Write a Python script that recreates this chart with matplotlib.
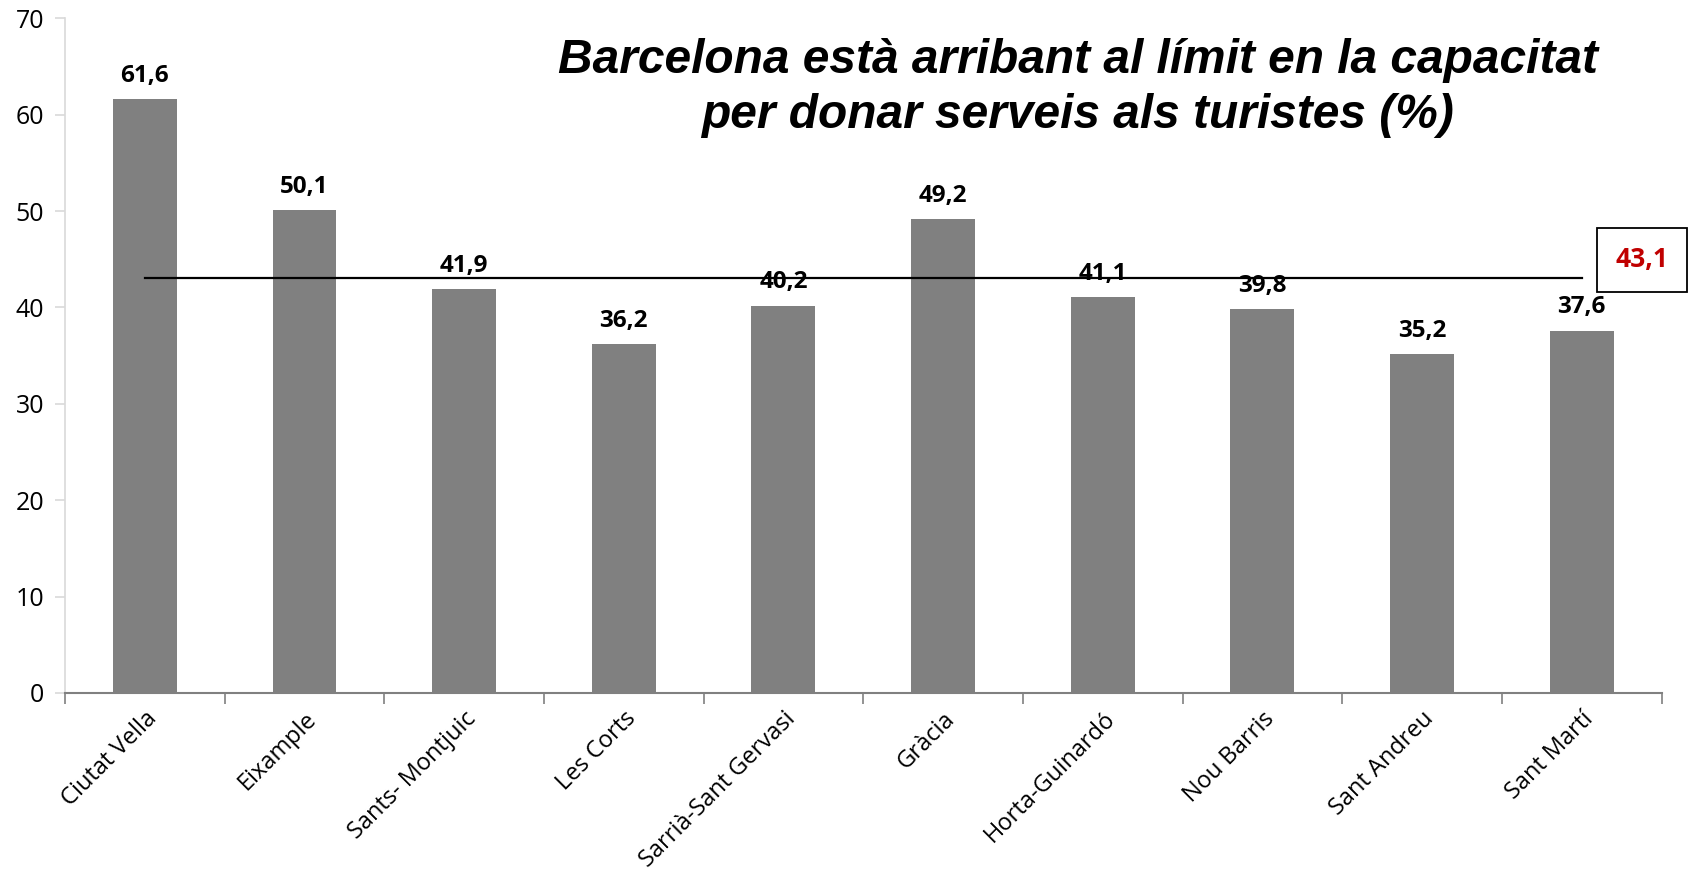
import matplotlib.pyplot as plt
import numpy as np

# dades
districtes = ["Ciutat Vella", "Eixample", "Sants- Montjuic", "Les Corts",
              "Sarrià-Sant Gervasi", "Gràcia", "Horta-Guinardó", "Nou Barris",
              "Sant Andreu", "Sant Martí"]
valors = [61.6, 50.1, 41.9, 36.2, 40.2, 49.2, 41.1, 39.8, 35.2, 37.6]
mitjana = 43.1
yticks = [0, 10, 20, 30, 40, 50, 60, 70]

titol = "Barcelona està arribant al límit en la capacitat\nper donar serveis als turistes (%)"

plt.rcParams['font.family'] = ['Open Sans', 'DejaVu Sans']

fig = plt.figure(figsize=(16.92, 8.72), dpi=100)
ax = fig.add_axes([0.0384, 0.2053, 0.9436, 0.7737])

x = np.arange(len(districtes))
ax.bar(x, valors, width=0.4, color="#808080", zorder=2)

for xi, v in zip(x, valors):
    ax.annotate(f"{v:.1f}".replace(".", ","), (xi, v), xytext=(0, 8),
                textcoords="offset points", ha="center", va="bottom",
                fontsize=17.5, fontweight="bold")

# línia de la mitjana
ax.plot([x[0], x[-1]], [mitjana, mitjana], color="black", lw=1.6, zorder=3)
fig.text(0.9705, 0.702, f"{mitjana:.1f}".replace(".", ","), color="#c00000",
         fontsize=19, fontweight="bold", ha="center", va="center",
         bbox=dict(boxstyle="square,pad=0.7", fc="white", ec="black", lw=1.3))

ax.set_xlim(-0.5, len(districtes) - 0.5)
ax.set_ylim(0, 70)
ax.set_yticks(yticks)
ax.set_yticklabels([str(t) for t in yticks], fontsize=18)

ax.set_xticks(x)
ax.set_xticklabels(districtes, rotation=45, ha="right", rotation_mode="anchor",
                   fontsize=17)
ax.tick_params(axis="x", which="major", length=0, pad=10)
ax.set_xticks(np.arange(-0.5, len(districtes)), minor=True)
ax.tick_params(axis="x", which="minor", length=8, color="#808080", width=1.2)
ax.tick_params(axis="y", length=7, color="#d9d9d9", width=1.2, pad=8)

for s in ["top", "right"]:
    ax.spines[s].set_visible(False)
ax.spines["left"].set_color("#d9d9d9")
ax.spines["left"].set_linewidth(1.2)
ax.spines["bottom"].set_color("#808080")
ax.spines["bottom"].set_linewidth(1.5)

fig.text(0.637, 0.899, titol, ha="center", va="center", fontsize=34.5,
         fontweight="bold", style="italic", family=["Liberation Sans", "DejaVu Sans"],
         linespacing=1.27)

fig.savefig("out.png", dpi=100)
